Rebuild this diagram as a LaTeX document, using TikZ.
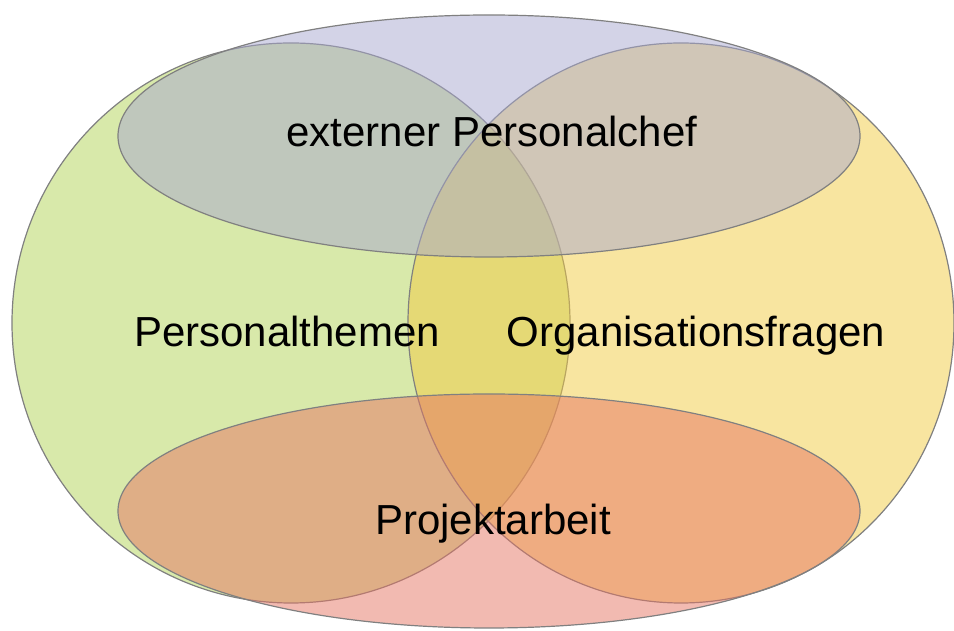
\documentclass[tikz,border=0pt]{standalone}
\usepackage{fontspec}
\setmainfont{Liberation Sans}
\usepackage{tikz}
\usetikzlibrary{positioning}
\definecolor{toppurple}{RGB}{167,167,207}
\definecolor{leftgreen}{RGB}{177,211,85}
\definecolor{rightyellow}{RGB}{242,203,66}
\definecolor{bottompink}{RGB}{230,117,99}
\begin{document}
\begin{tikzpicture}[x = 0.5pt, y = 0.5pt, set/.style = {fill opacity=0.5, draw=black!50, line width=0.6pt}, lbl/.style = {font=\fontsize{21}{25}\selectfont, inner sep=0pt, anchor=base}]
	\useasboundingbox (0,0) rectangle (954,631);
	\draw[set, fill=leftgreen] (291,308) ellipse [x radius=279, y radius=280];
	\draw[set, fill=rightyellow] (681,308) ellipse [x radius=273, y radius=280];
	\draw[set, fill=toppurple] (489,495) ellipse [x radius=371, y radius=121];
	\draw[set, fill=bottompink] (489,120) ellipse [x radius=371, y radius=117];
	\node[lbl] (chef) at (492,484) {externer Personalchef};
	\node[lbl] (personal) at (287,284) {Personalthemen};
	\node[lbl] (orga) at (696,284) {Organisationsfragen};
	\node[lbl] (projekt) at (493,96) {Projektarbeit};
\end{tikzpicture}
\end{document}
